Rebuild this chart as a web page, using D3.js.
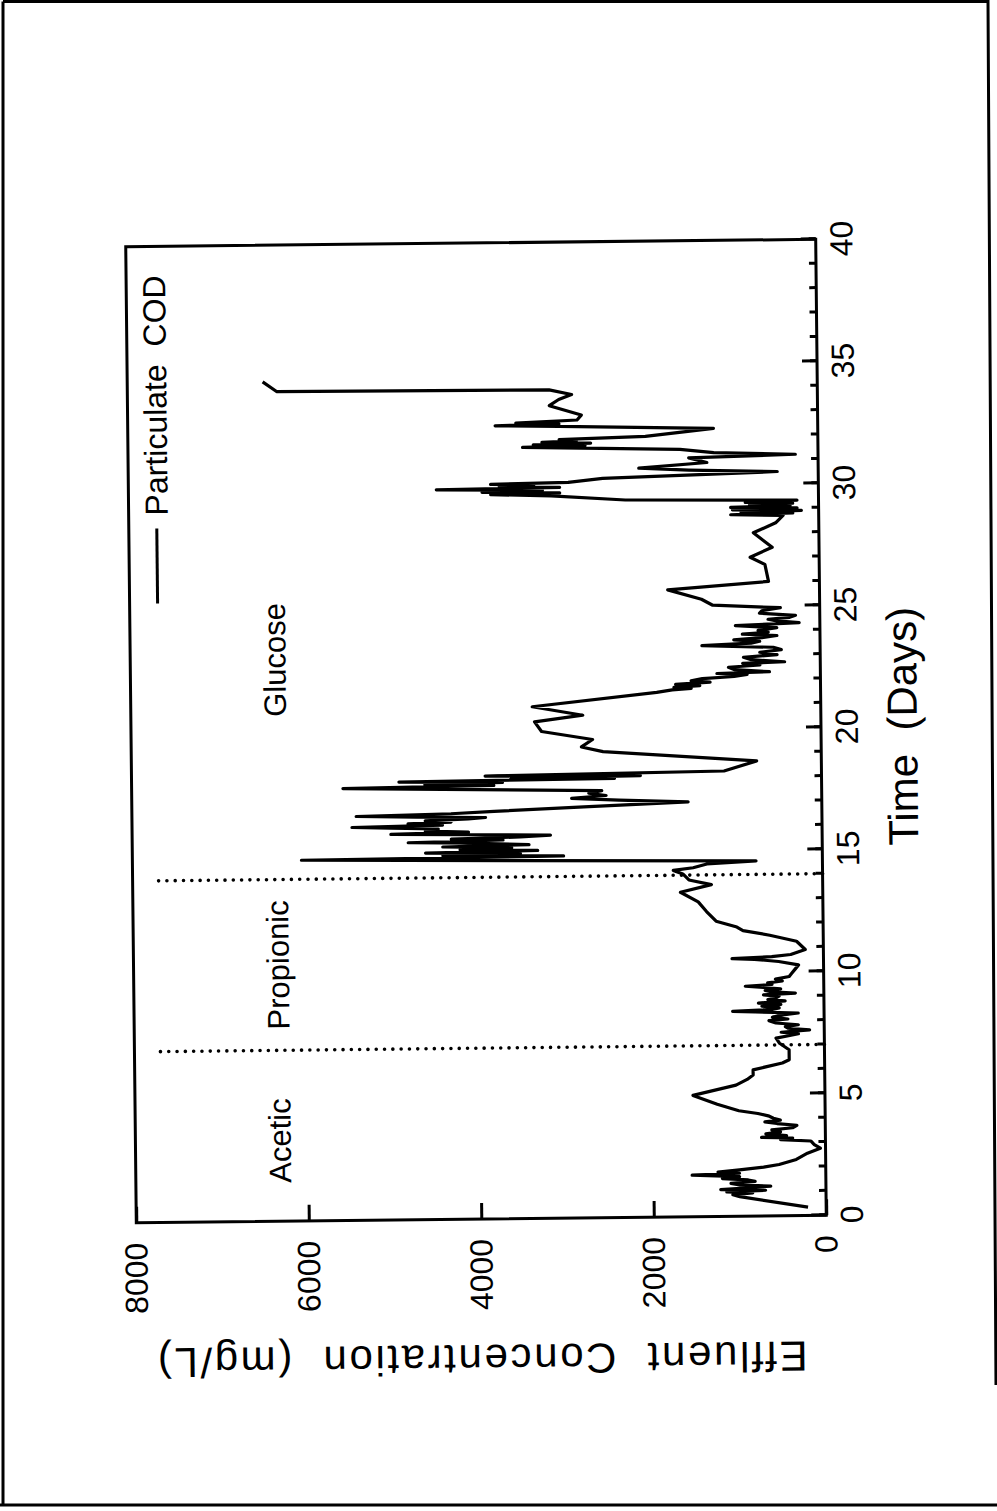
<!DOCTYPE html>
<html>
<head>
<meta charset="utf-8">
<script src="https://cdn.jsdelivr.net/npm/d3@7"></script>
<style>
  html, body { margin: 0; padding: 0; background: #fff; }
  svg { display: block; }
  text { font-family: "Liberation Sans", Arial, Helvetica, sans-serif; fill: #000; }
</style>
</head>
<body>
<svg id="chart" width="997" height="1511"></svg>
<script>
// Particulate COD in the reactor effluent (mg/L) against time (days)
const days = [
  0.34, 0.80, 0.88, 0.95, 1.00, 1.05, 1.10, 1.16, 1.22, 1.28, 1.35, 1.42, 1.48, 1.55, 1.62, 1.70,
  1.76, 1.82, 1.90, 2.00, 2.10, 2.30, 2.55, 2.75, 2.90, 3.05, 3.12, 3.18, 3.22, 3.28, 3.36, 3.44,
  3.52, 3.60, 3.70, 3.78, 3.85, 3.92, 4.00, 4.10, 4.20, 4.32, 4.60, 4.97, 5.37, 5.60, 5.78, 5.99,
  6.26, 6.39, 6.80, 7.07, 7.28, 7.38, 7.45, 7.52, 7.60, 7.68, 7.75, 7.82, 7.90, 8.00, 8.06, 8.14,
  8.22, 8.30, 8.36, 8.40, 8.46, 8.52, 8.60, 8.66, 8.72, 8.80, 8.86, 8.92, 9.00, 9.06, 9.12, 9.18,
  9.24, 9.30, 9.36, 9.42, 9.48, 9.55, 9.62, 9.70, 9.80, 9.93, 10.10, 10.27, 10.42, 10.52, 10.56, 10.62,
  10.70, 10.90, 11.24, 11.50, 11.70, 11.85, 12.10, 12.50, 12.90, 13.30, 13.60, 13.80, 14.05, 14.20, 14.30, 14.45,
  14.55, 14.78, 14.84, 14.90, 14.96, 15.02, 15.08, 15.14, 15.20, 15.26, 15.32, 15.40, 15.45, 15.52, 15.58, 15.64,
  15.70, 15.76, 15.80, 15.86, 15.92, 16.00, 16.06, 16.10, 16.16, 16.22, 16.28, 16.34, 16.40, 16.45, 16.50, 16.55,
  16.62, 16.70, 16.85, 17.00, 17.10, 17.20, 17.30, 17.40, 17.50, 17.60, 17.70, 17.76, 17.82, 17.88, 17.94, 18.00,
  18.04, 18.10, 18.15, 18.25, 18.65, 19.10, 19.30, 19.60, 19.95, 20.35, 20.60, 20.97, 21.50, 21.60, 21.65, 21.70,
  21.76, 21.82, 21.90, 21.96, 22.05, 22.12, 22.20, 22.25, 22.30, 22.40, 22.50, 22.58, 22.65, 22.70, 22.80, 22.90,
  23.00, 23.10, 23.20, 23.30, 23.40, 23.48, 23.55, 23.62, 23.70, 23.78, 23.85, 23.92, 24.00, 24.10, 24.20, 24.30,
  24.38, 24.45, 24.52, 24.60, 24.70, 24.80, 24.92, 25.05, 25.30, 25.70, 26.00, 26.70, 27.00, 27.40, 28.00, 28.40,
  28.70, 28.75, 28.80, 28.85, 28.90, 28.95, 29.00, 29.05, 29.10, 29.15, 29.20, 29.25, 29.32, 29.40, 29.60, 29.68,
  29.72, 29.78, 29.84, 29.90, 29.95, 30.00, 30.05, 30.10, 30.15, 30.30, 30.50, 30.60, 30.70, 30.90, 31.10, 31.20,
  31.30, 31.45, 31.60, 31.65, 31.70, 31.75, 31.80, 31.85, 31.90, 32.00, 32.30, 32.45, 32.50, 32.55, 32.60, 32.70,
  32.90, 33.30, 33.55, 33.75, 33.95, 34.00, 34.40
];
const cod = [
  210, 1000, 1080, 850, 1150, 700, 1220, 900, 640, 1000, 1100, 820, 900, 1200, 1000, 1550,
  1000, 1250, 1000, 720, 540, 340, 210, 60, 130, 170, 520, 380, 740, 450, 690, 520,
  620, 380, 330, 560, 700, 520, 600, 660, 780, 1000, 1250, 1530, 1030, 900, 830, 830,
  490, 410, 410, 520, 560, 400, 300, 500, 170, 420, 450, 300, 560, 640, 420, 600,
  500, 300, 800, 1060, 600, 520, 720, 500, 760, 450, 650, 560, 520, 700, 330, 600,
  680, 500, 700, 910, 600, 650, 480, 560, 400, 370, 330, 290, 520, 800, 1060, 600,
  380, 210, 310, 620, 930, 1000, 1240, 1350, 1445, 1650, 1290, 1550, 1620, 1730, 1500, 1340,
  770, 6040, 3000, 4400, 3500, 4600, 3300, 4200, 3600, 4400, 3400, 4000, 4800, 3700, 4300, 3500,
  3150, 4200, 5000, 4100, 4600, 4450, 5000, 5450, 4400, 4800, 4300, 4600, 4100, 3900, 4700, 5400,
  4300, 3800, 2700, 1550, 2350, 2900, 2500, 2700, 2550, 4000, 5550, 3800, 4600, 3700, 4900, 2400,
  3600, 2100, 3900, 1130, 750, 2530, 2780, 2650, 3240, 3320, 2760, 3345, 1900, 1720, 1500, 1700,
  1400, 1680, 1280, 1500, 1370, 1000, 850, 1200, 590, 1000, 1065, 700, 900, 413, 800, 890,
  500, 700, 450, 543, 1370, 800, 700, 1000, 673, 500, 900, 600, 717, 500, 980, 240,
  500, 600, 350, 282, 700, 673, 456, 1240, 1370, 1760, 590, 630, 800, 543, 760, 500,
  413, 1020, 300, 900, 200, 1000, 250, 1020, 330, 800, 300, 850, 250, 2240, 3100, 3800,
  3000, 3900, 3200, 4430, 3000, 3700, 3300, 3800, 2900, 2500, 475, 1500, 2080, 1290, 1500, 263,
  1210, 1600, 3425, 2700, 3300, 2635, 3200, 2800, 3000, 2000, 1210, 3000, 3740, 3000, 3500, 2790,
  2740, 3110, 3000, 2850, 3110, 6270, 6430
];

// Feed changes and the substrate fed in each period
const phaseBoundaries = [7, 14];
const phaseNames = ["Acetic", "Propionic", "Glucose"];
const phaseLabelDays = [3.3, 10.5, 23];
const phaseLabelConc = 6200;
const separatorTop = 7700;

// Axis ticks
const timeTicks = [0, 5, 10, 15, 20, 25, 30, 35, 40];
const timeMinorTicks = d3.range(0, 41, 1);
const concTicks = [0, 2000, 4000, 6000, 8000];

const seriesName = "Particulate  COD";
const timeTitle = "Time  (Days)";
const concTitle = "Effluent  Concentration  (mg/L)";

// ---- layout (the page is printed landscape, so the plot is turned a quarter turn) ----
const W = 976, H = 690;
const svg = d3.select("#chart");

// page frame
const frame = svg.append("g").attr("fill", "none").attr("stroke", "#000").attr("stroke-width", 3);
frame.append("path").attr("d", "M3,1.5 L988,1.5 L996,1385");
frame.append("path").attr("d", "M3,1.5 L3,1505");
frame.append("path").attr("d", "M0,1505 L997,1505");

const page = svg.append("g").attr("transform", "rotate(-0.62 476 731)");
const g = page.append("g").attr("transform", "translate(131,1219) rotate(-90)");

const x = d3.scaleLinear().domain([0, 40]).range([0, W]);
const y = d3.scaleLinear().domain([0, 8000]).range([H, 0]);

// plot box
g.append("rect")
  .attr("width", W).attr("height", H)
  .attr("fill", "none").attr("stroke", "#000").attr("stroke-width", 3);

// phase separators
g.selectAll("line.phase")
  .data(phaseBoundaries)
  .join("line")
  .attr("class", "phase")
  .attr("x1", d => x(d)).attr("x2", d => x(d))
  .attr("y1", y(0)).attr("y2", y(separatorTop))
  .attr("stroke", "#000").attr("stroke-width", 3.6)
  .attr("stroke-linecap", "round")
  .attr("stroke-dasharray", "0 8.3");

// COD trace
const pts = days.map((d, i) => [d, cod[i]]);
g.append("path")
  .datum(pts)
  .attr("fill", "none").attr("stroke", "#000").attr("stroke-width", 3.2)
  .attr("stroke-linejoin", "round")
  .attr("d", d3.line().x(d => x(d[0])).y(d => y(d[1])));

// time axis (minor + major ticks pointing inward)
const minorAxis = g.append("g").attr("transform", `translate(0,${H})`)
  .call(d3.axisBottom(x).tickValues(timeMinorTicks).tickSize(-7).tickFormat(""));
minorAxis.select(".domain").remove();

const timeAxis = g.append("g").attr("transform", `translate(0,${H})`)
  .call(d3.axisBottom(x).tickValues(timeTicks).tickSize(-15).tickPadding(14).tickFormat(d3.format("d")));
timeAxis.select(".domain").remove();

// concentration axis
const concAxis = g.append("g")
  .call(d3.axisLeft(y).tickValues(concTicks).tickSize(-16).tickPadding(20).tickFormat(d3.format("d")));
concAxis.select(".domain").remove();

g.selectAll(".tick line").attr("stroke", "#000").attr("stroke-width", 3);
g.selectAll(".tick text").attr("font-size", 32).attr("font-family", '"Liberation Sans", Arial, sans-serif').attr("fill", "#000");

// axis titles
g.append("text")
  .attr("x", W / 2).attr("y", H + 96)
  .attr("text-anchor", "middle")
  .attr("font-size", 42)
  .style("white-space", "pre")
  .text(timeTitle);

g.append("text")
  .attr("transform", `translate(-126,${H / 2}) rotate(-90)`)
  .attr("text-anchor", "middle")
  .attr("font-size", 42)
  .attr("textLength", 650)
  .attr("lengthAdjust", "spacing")
  .style("white-space", "pre")
  .text(concTitle);

// phase names
g.selectAll("text.phase")
  .data(phaseNames)
  .join("text")
  .attr("class", "phase")
  .attr("x", (d, i) => x(phaseLabelDays[i]))
  .attr("y", y(phaseLabelConc))
  .attr("text-anchor", "middle")
  .attr("font-size", 31)
  .text(d => d);

// legend
const legend = g.append("g").attr("transform", `translate(${W - 29},28)`);
legend.append("line")
  .attr("x1", -328).attr("x2", -253).attr("y1", 0).attr("y2", 0)
  .attr("stroke", "#000").attr("stroke-width", 3);
legend.append("text")
  .attr("x", 0).attr("y", 11)
  .attr("text-anchor", "end")
  .attr("font-size", 32)
  .style("white-space", "pre")
  .text(seriesName);
</script>
</body>
</html>
